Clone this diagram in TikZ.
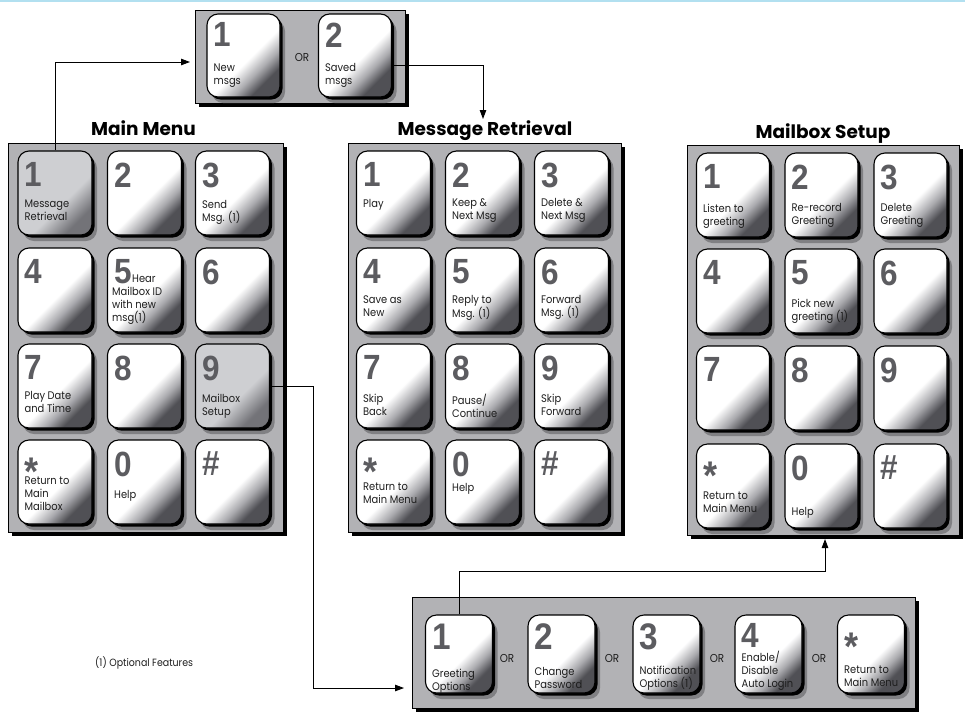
\documentclass[tikz,border=0pt]{standalone}
\usepackage{fontspec}
\setmainfont{Poppins}
\newfontfamily\digitfont[FakeStretch=0.9]{Liberation Sans}
\newfontfamily\labfont[FakeStretch=0.9]{Poppins}
\usetikzlibrary{calc,arrows.meta,shadows}
\definecolor{panelgray}{RGB}{178,178,181}
\definecolor{keygray}{RGB}{206,207,210}
\definecolor{kdark}{RGB}{80,80,85}
\definecolor{kmid}{RGB}{170,170,174}
\definecolor{gdark}{RGB}{115,115,120}
\definecolor{halo}{RGB}{128,128,131}
\definecolor{digitgray}{RGB}{92,92,96}
\definecolor{labelcol}{RGB}{30,30,30}
\definecolor{skyline}{RGB}{178,224,240}
\pgfdeclareverticalshading{keyw}{100bp}{color(0bp)=(kdark); color(28bp)=(kdark); color(36bp)=(kmid); color(46bp)=(white); color(100bp)=(white)}
\pgfdeclareverticalshading{keyg}{100bp}{color(0bp)=(gdark); color(27bp)=(gdark); color(42bp)=(keygray); color(100bp)=(keygray)}
\newcommand{\keystar}{\raisebox{-16pt}[13pt][0pt]{*}}
\tikzset{
  panel/.style={draw=black, line width=0.8pt, fill=panelgray, inner sep=0pt,
    general shadow={fill=black, shadow xshift=4pt, shadow yshift=-4pt}},
  keybox/.style={draw=black, line width=1.1pt, rounded corners=11pt, inner sep=0pt,
    minimum width=74pt, minimum height=84pt, shade, shading=keyw, shading angle=45,
    general shadow={fill=halo, shadow xshift=5pt, shadow yshift=-6pt},
    general shadow={fill=black, shadow xshift=2.5pt, shadow yshift=-2.5pt}},
  graykey/.style={shading=keyg},
  smallkey/.style={minimum width=67pt, minimum height=78pt},
  digit/.style={anchor=north west, inner sep=0pt, text=digitgray,
    font=\digitfont\bfseries\fontsize{35}{35}\selectfont},
  bigdigit/.style={font=\digitfont\bfseries\fontsize{37}{37}\selectfont, yshift=3pt},
  stardigit/.style={font=\digitfont\bfseries\fontsize{40}{40}\selectfont, yshift=-5pt},
  lab/.style={anchor=north west, inner sep=0pt, align=left, text=labelcol,
    font=\labfont\fontsize{11}{13}\selectfont, execute at begin node=\strut},
  title/.style={anchor=base, inner sep=0pt, font=\bfseries\fontsize{18.5}{18.5}\selectfont},
  ortext/.style={inner sep=0pt, text=labelcol, font=\labfont\fontsize{11.5}{11.5}\selectfont},
  conn/.style={draw=black, line width=0.9pt, -{Triangle[length=9pt,width=6.5pt]}},
  topline/.style={draw=skyline, line width=1.6pt},
}
% name, x, y, key options, digit options, digit, label, first baseline
\newcommand{\mkey}[8]{%
  \node[keybox,#4] (#1) at (#2,#3) {};
  \node[digit,#5] (#1d) at ($(#1.north west)+(7,12)$) {#6};
  \if\relax\detokenize{#7}\relax\else
  \node[lab] (#1l) at ($(#1.north west)+(7,#8-9)$) {#7};
  \fi}
\begin{document}
\begin{tikzpicture}[x=1pt,y=-1pt]
\useasboundingbox (0,0) rectangle (965,715);
\draw[topline] (0,1.2) -- (965,1.2);

% panels
\node[panel, minimum width=210pt, minimum height=93pt] (tp) at (300,56.5) {};
\node[panel, minimum width=275pt, minimum height=389pt] (mmP) at (145.5,337.5) {};
\node[panel, minimum width=273pt, minimum height=389pt] (mrP) at (484.5,337.5) {};
\node[panel, minimum width=272pt, minimum height=390pt] (msP) at (823,340) {};
\node[panel, minimum width=503pt, minimum height=111pt] (bp) at (663.5,652.5) {};

% titles
\node[title] (mmT) at (143.5,135) {Main Menu};
\node[title] (mrT) at (485,135) {Message Retrieval};
\node[title] (msT) at (823,138) {Mailbox Setup};

% top box
\mkey{tk1}{243.5}{55.5}{minimum width=73pt, minimum height=83pt}{yshift=3pt}{1}{New\\msgs}{59}
\mkey{tk2}{355}{55.5}{minimum width=73pt, minimum height=83pt}{yshift=3pt}{2}{Saved\\msgs}{59}
\node[ortext] (or0) at (302,57) {OR};

% main menu
\mkey{mm1}{55}{193}{graykey}{}{1}{Message\\Retrieval}{58}
\mkey{mm2}{144.5}{193}{}{}{2}{}{0}
\mkey{mm3}{232.5}{193}{}{}{3}{Send\\Msg. (1)}{59}
\mkey{mm4}{55}{290}{}{}{4}{}{0}
\mkey{mm5}{144.5}{290}{}{}{5}{}{0}
\node[lab, anchor=base west] (mm5h) at ($(mm5.north west)+(25,35)$) {Hear};
\node[lab] (mm5l) at ($(mm5.north west)+(5,48-9)$) {Mailbox ID\\with new\\msg(1)};
\mkey{mm6}{232.5}{290}{}{}{6}{}{0}
\mkey{mm7}{55}{386}{}{}{7}{Play Date\\and Time}{57}
\mkey{mm8}{144.5}{386}{}{}{8}{}{0}
\mkey{mm9}{232.5}{386}{graykey}{}{9}{Mailbox\\Setup}{59}
\mkey{mmS}{55}{482}{}{stardigit}{\keystar}{Return to\\Main\\Mailbox}{46}
\mkey{mm0}{144.5}{482}{}{}{0}{Help}{59}
\mkey{mmH}{232.5}{482}{}{}{\#}{}{0}

% message retrieval
\mkey{mr1}{393.5}{193}{}{}{1}{Play}{57}
\mkey{mr2}{482.5}{193}{}{}{2}{Keep \&\\Next Msg}{57}
\mkey{mr3}{571.5}{193}{}{}{3}{Delete \&\\Next Msg}{57}
\mkey{mr4}{393.5}{290}{}{}{4}{Save as\\New}{57}
\mkey{mr5}{482.5}{290}{}{}{5}{Reply to\\Msg. (1)}{57}
\mkey{mr6}{571.5}{290}{}{}{6}{Forward\\Msg. (1)}{57}
\mkey{mr7}{393.5}{386}{}{}{7}{Skip\\Back}{59}
\mkey{mr8}{482.5}{386}{}{}{8}{Pause/\\Continue}{59}
\mkey{mr9}{571.5}{386}{}{}{9}{Skip\\Forward}{59}
\mkey{mrS}{393.5}{482}{}{stardigit}{\keystar}{Return to\\Main Menu}{52}
\mkey{mr0}{482.5}{482}{}{}{0}{Help}{52}
\mkey{mrH}{571.5}{482}{}{}{\#}{}{0}

% mailbox setup
\mkey{ms1}{733}{195}{minimum width=73pt}{}{1}{Listen to\\greeting}{60}
\mkey{ms2}{821.5}{195}{minimum width=73pt}{}{2}{Re-record\\Greeting}{60}
\mkey{ms3}{910.5}{195}{minimum width=73pt}{}{3}{Delete\\Greeting}{60}
\mkey{ms4}{733}{291}{minimum width=73pt}{}{4}{}{0}
\mkey{ms5}{821.5}{291}{minimum width=73pt}{}{5}{Pick new\\greeting (1)}{59}
\mkey{ms6}{910.5}{291}{minimum width=73pt}{}{6}{}{0}
\mkey{ms7}{733}{388}{minimum width=73pt}{}{7}{}{0}
\mkey{ms8}{821.5}{388}{minimum width=73pt}{}{8}{}{0}
\mkey{ms9}{910.5}{388}{minimum width=73pt}{}{9}{}{0}
\mkey{msS}{733}{486}{minimum width=73pt}{stardigit}{\keystar}{Return to\\Main Menu}{57}
\mkey{ms0}{821.5}{486}{minimum width=73pt}{}{0}{Help}{72}
\mkey{msH}{910.5}{486}{minimum width=73pt}{}{\#}{}{0}

% bottom box
\mkey{bk1}{459}{654}{smallkey}{bigdigit}{1}{Greeting\\Options}{63}
\mkey{bk2}{561.5}{654}{smallkey}{bigdigit}{2}{Change\\Password}{62}
\mkey{bk3}{666.5}{654}{smallkey}{bigdigit}{3}{Notification\\Options (1)}{60}
\mkey{bk4}{768.5}{654}{smallkey}{yshift=3pt}{4}{Enable/\\Disable\\Auto Login}{45}
\mkey{bk5}{871}{654}{smallkey}{stardigit}{\keystar}{Return to\\Main Menu}{60}
\node[ortext] (or1) at (507,658) {OR};
\node[ortext] (or2) at (612,658) {OR};
\node[ortext] (or3) at (717,658) {OR};
\node[ortext] (or4) at (819,658) {OR};

\node[ortext, anchor=west, font=\labfont\fontsize{10.5}{10.5}\selectfont] (fn) at (95,663) {(1) Optional Features};

% connectors
\coordinate (topIn) at (190,62);
\draw[conn] (mm1.north) |- (topIn);
\coordinate (mrIn) at (483,119);
\draw[conn] ($(tk2.east)+(0,10)$) -| (mrIn);
\coordinate (bIn) at (404,688);
\draw[conn] (mm9.east) -- ++(43,0) |- (bIn);
\coordinate (msIn) at (825,539);
\draw[conn] (bk1.north) -- ++(0,-43) -| (msIn);
\end{tikzpicture}
\end{document}
